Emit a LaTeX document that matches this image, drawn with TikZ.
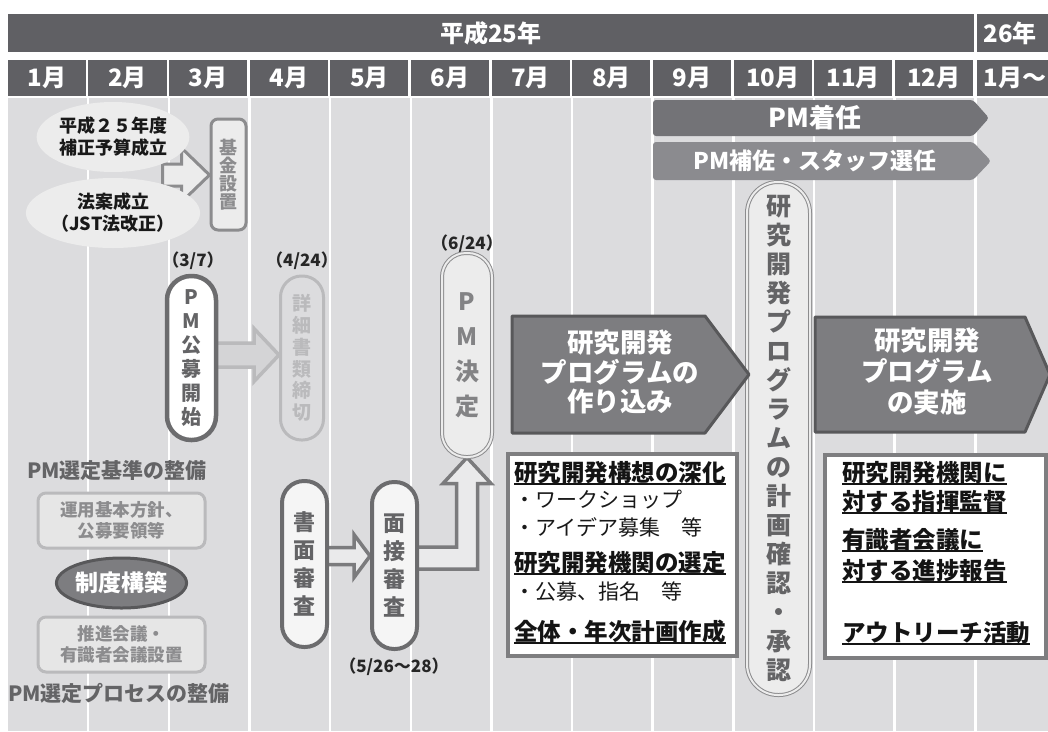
\documentclass[tikz,border=0pt]{standalone}
\usepackage{fontspec}
\setmainfont{Noto Sans CJK JP}
\usetikzlibrary{calc,shapes.geometric}

\definecolor{headgray}{RGB}{96,96,100}
\definecolor{backgray}{RGB}{220,220,222}
\definecolor{lightfill}{RGB}{236,236,236}
\definecolor{midgray}{RGB}{140,140,142}
\definecolor{darkline}{RGB}{108,108,110}
\definecolor{palegray}{RGB}{186,186,188}
\definecolor{palefill}{RGB}{212,212,214}
\definecolor{boxgray}{RGB}{126,126,128}
\definecolor{pentafill}{RGB}{125,125,128}
\definecolor{pentaline}{RGB}{88,88,90}
\definecolor{textgray}{RGB}{100,100,102}
\definecolor{barone}{RGB}{115,115,119}
\definecolor{bartwo}{RGB}{139,139,143}

\pgfdeclarelayer{back}
\pgfdeclarelayer{arrows}
\pgfsetlayers{back,arrows,main}

\newcommand\undl[1]{\setbox0\hbox{#1}\rlap{\rule[-4pt]{\wd0}{1.8pt}}\box0}

\newcommand\blockarrow[6][]{%
  \path[#1] let \p1=#2, \p2=#3 in
    (\x1,{\y1+#4}) -- ({\x2-#6},{\y1+#4}) -- ({\x2-#6},{\y1+#5}) -- (\x2,\y1)
    -- ({\x2-#6},{\y1-#5}) -- ({\x2-#6},{\y1-#4}) -- (\x1,{\y1-#4}) -- cycle;}

\tikzset{
  headcell/.style={fill=headgray,text=white,anchor=north west,minimum height=38,
    inner sep=0,font=\bfseries\fontsize{24}{24}\selectfont},
  monthcell/.style={headcell,minimum height=36,minimum width=78.15},
  bubble/.style={ellipse,fill=lightfill,inner sep=0,align=center,text=black!90,
    font=\bfseries\fontsize{18}{22}\selectfont},
  datelabel/.style={inner sep=0,text=black!85,font=\bfseries\fontsize{17}{17}\selectfont},
  pill/.style={rectangle,align=center,inner sep=0},
  fundbox/.style={rectangle,draw=midgray,line width=3,fill=lightfill,rounded corners=7,
    minimum width=35,minimum height=111,inner sep=0,align=center,text=midgray,
    font=\bfseries\fontsize{18}{18}\selectfont},
  sectlabel/.style={inner sep=0,text=textgray,font=\bfseries\fontsize{21}{21}\selectfont},
  paleboxes/.style={rectangle,draw=palegray,line width=3,fill=lightfill!60!backgray,
    rounded corners=8,minimum width=167,minimum height=55,inner sep=0,align=center,
    text=midgray,font=\bfseries\fontsize{17.5}{20.5}\selectfont},
  penta/.style={fill=pentafill,draw=pentaline,line width=3,line join=round},
  pentatext/.style={inner sep=0,align=center,text=white,
    font=\bfseries\fontsize{26.5}{29.5}\selectfont},
  bartext/.style={inner sep=0,text=white,font=\bfseries\fontsize{23}{23}\selectfont},
  whitebox/.style={rectangle,draw=boxgray,line width=4,fill=white,inner sep=0},
  boxhead/.style={anchor=west,inner sep=0,text=black!92,
    font=\bfseries\fontsize{23.5}{23.5}\selectfont},
  boxitem/.style={anchor=west,inner sep=0,text=black!90,
    font=\fontsize{21}{21}\selectfont},
  fundarrow/.style={fill=lightfill,draw=midgray,line width=3},
  palearrow/.style={fill=palefill,draw=palegray,line width=3.5},
  darkarrow/.style={fill=lightfill!90!backgray,draw=darkline!90,line width=3.5}
}

\begin{document}
\begin{tikzpicture}[x=1pt,y=-1pt]
\useasboundingbox (0,0) rectangle (1048,731);
\begin{pgfonlayer}{back}
\fill[backgray] (7.5,97.5) rectangle (1060,731);
\foreach \i in {1,...,12}
  \draw[white,line width=2.5] ({7.5+80.65*\i},97.5) -- ({7.5+80.65*\i},731);
\end{pgfonlayer}

\node[headcell,minimum width=966.5] (y25) at (7.5,14) {平成25年};
\node[headcell,text width=70,align=left,inner xsep=7] (y26) at (976.5,14) {26年};
\foreach \m [count=\i] in {1月,2月,3月,4月,5月,6月,7月,8月,9月,10月,11月,12月}
  \node[monthcell] (m\i) at ({7.5+80.65*(\i-1)},60) {\m};
\node[monthcell,minimum width=0,text width=70,align=left,inner xsep=7] (m13) at (976.5,60) {1月～};

\node[bubble,minimum width=124,minimum height=70] (budget) at (113,137) {平成２５年度\\補正予算成立};
\node[bubble,minimum width=120,minimum height=70] (law) at (113,213) {法案成立\\（JST法改正）};
\node[fundbox] (fund) at (228.5,174.5) {基\\金\\設\\置};

\node[datelabel] (d37) at (193,261) {（3/7）};
\node[datelabel] (d424) at (302,261) {（4/24）};
\node[datelabel] (d624) at (467,244) {（6/24）};
\node[datelabel] (d526) at (394,667) {（5/26～28）};

\node[pill,draw=darkline,line width=4.5,fill=white,rounded corners=24,minimum width=49,
  minimum height=164,text=textgray,font=\bfseries\fontsize{20}{24}\selectfont]
  (call) at (191.5,358) {P\\M\\公\\募\\開\\始};
\node[pill,draw=palegray,line width=3,fill=backgray,rounded corners=21,minimum width=43,
  minimum height=164,text=palegray,font=\bfseries\fontsize{19}{21.7}\selectfont]
  (deadline) at (302,358) {詳\\細\\書\\類\\締\\切};
\node[pill,draw=midgray,double=lightfill,double distance=2,line width=1,fill=lightfill,
  rounded corners=24,minimum width=50,minimum height=204,text=textgray!80,
  font=\bfseries\fontsize{24}{35}\selectfont] (decide) at (467,355) {P\\M\\決\\定};
\node[pill,draw=darkline,line width=4,fill=lightfill!50!white,rounded corners=22,
  minimum width=45,minimum height=166,text=textgray,
  font=\bfseries\fontsize{22}{28}\selectfont] (paper) at (304.5,564) {書\\面\\審\\査};
\node[pill,draw=darkline,line width=4,fill=lightfill!50!white,rounded corners=22,
  minimum width=45,minimum height=167,text=textgray,
  font=\bfseries\fontsize{22}{28}\selectfont] (interview) at (394.5,565.5) {面\\接\\審\\査};
\node[pill,draw=midgray,double=lightfill,double distance=2,line width=1,fill=lightfill,
  rounded corners=31,minimum width=63,minimum height=513,text=textgray,
  font=\bfseries\fontsize{25}{29}\selectfont] (confirm) at (778.5,438.5)
  {研\\究\\開\\発\\プ\\ロ\\グ\\ラ\\ム\\の\\計\\画\\確\\認\\・\\承\\認};

\node[sectlabel] (criteria) at (117,471) {PM選定基準の整備};
\node[paleboxes] (policy) at (121.5,520.5) {運用基本方針、\\公募要領等};
\node[ellipse,fill=pentafill,draw=pentaline,line width=3,minimum width=117,minimum height=50,
  inner sep=0,text=white,font=\bfseries\fontsize{23}{23}\selectfont] (system) at (121.5,583) {制度構築};
\node[paleboxes] (council) at (121.5,644.5) {推進会議・\\有識者会議設置};
\node[sectlabel] (process) at (119,693) {PM選定プロセスの整備};

\fill[barone,rounded corners=3] (653,100) -- (973,100) -- (989,118) -- (973,136) -- (653,136) -- cycle;
\node[bartext,font=\bfseries\fontsize{26}{26}\selectfont] (arrival) at (815,118) {PM着任};
\fill[bartwo,rounded corners=3] (653,142) -- (973,142) -- (991,161) -- (973,180) -- (653,180) -- cycle;
\node[bartext] (staff) at (815,161) {PM補佐・スタッフ選任};

\draw[penta] (512,316) -- (705,316) -- (749,374.5) -- (705,433) -- (512,433) -- cycle;
\node[pentatext] (build) at (620,372) {研究開発\\プログラムの\\作り込み};
\draw[penta] (815,317) -- (1025,317) -- (1050,374.5) -- (1025,432) -- (815,432) -- cycle;
\node[pentatext,font=\bfseries\fontsize{26.5}{31}\selectfont] (run) at (927,371) {研究開発\\プログラム\\の実施};

\node[whitebox,minimum width=229,minimum height=202] (devbox) at (622.5,555) {};
\node[boxhead] (deepen) at (514,473) {\undl{研究開発構想の深化}};
\node[boxitem] (workshop) at (514,500) {・ワークショップ};
\node[boxitem] (ideas) at (514,527) {・アイデア募集　等};
\node[boxhead] (select) at (514,563) {\undl{研究開発機関の選定}};
\node[boxitem] (appoint) at (514,592) {・公募、指名　等};
\node[boxhead] (plan) at (514,632) {\undl{全体・年次計画作成}};

\node[whitebox,minimum width=221,minimum height=203] (mgmtbox) at (935.5,556.5) {};
\node[boxhead] (direct) at (842,473) {\undl{研究開発機関に}};
\node[boxhead] (direct2) at (842,502) {\undl{対する指揮監督}};
\node[boxhead] (report) at (842,540) {\undl{有識者会議に}};
\node[boxhead] (report2) at (842,571) {\undl{対する進捗報告}};
\node[boxhead] (outreach) at (842,633) {\undl{アウトリーチ活動}};

\begin{pgfonlayer}{arrows}
\blockarrow[fundarrow]{($(fund.west)+(-47,0.5)$)}{(fund.west)}{11pt}{27pt}{28pt}
\blockarrow[palearrow]{($(call.east)+(-10,-3)$)}{(deadline.west)}{12pt}{26.5pt}{25pt}
\blockarrow[darkarrow]{($(paper.east)+(-10,-8)$)}{(interview.west)}{8.5pt}{21.5pt}{16pt}
\path[darkarrow] let \p1=(interview.east), \p2=(decide.south) in
  ({\x1-10pt},{\y1+18.5pt}) -- ({\x2-10.5pt},{\y1+18.5pt}) -- ({\x2-10.5pt},{\y2-26pt})
  -- ({\x2-24pt},{\y2-26pt}) -- (\x2,\y2) -- ({\x2+24pt},{\y2-26pt})
  -- ({\x2+10.5pt},{\y2-26pt}) -- ({\x2+10.5pt},{\y1-3.5pt}) -- ({\x1-10pt},{\y1-3.5pt}) -- cycle;
\end{pgfonlayer}
\end{tikzpicture}
\end{document}
